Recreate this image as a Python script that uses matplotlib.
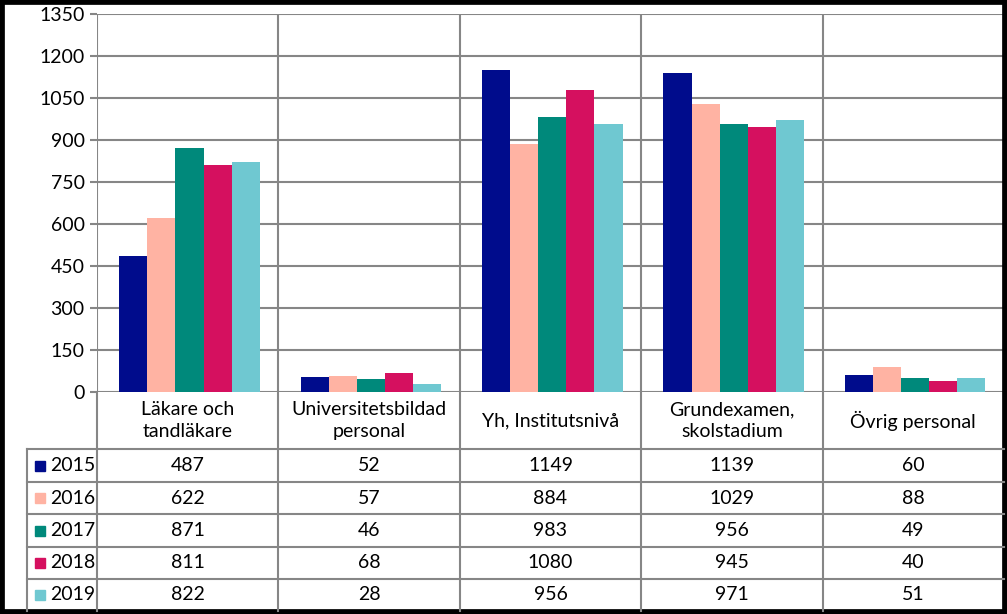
import matplotlib
matplotlib.use("Agg")
import matplotlib.pyplot as plt
import numpy as np
from matplotlib.patches import Rectangle
from matplotlib.lines import Line2D

categories = ["Läkare och\ntandläkare", "Universitetsbildad\npersonal", "Yh, Institutsnivå",
              "Grundexamen,\nskolstadium", "Övrig personal"]
years = ["2015", "2016", "2017", "2018", "2019"]
values = {
    "2015": [487, 52, 1149, 1139, 60],
    "2016": [622, 57, 884, 1029, 88],
    "2017": [871, 46, 983, 956, 49],
    "2018": [811, 68, 1080, 945, 40],
    "2019": [822, 28, 956, 971, 51],
}
colors = ["#000C8C", "#FFB3A3", "#00897B", "#D5105F", "#6FC8D1"]
yticks = [0, 150, 300, 450, 600, 750, 900, 1050, 1200, 1350]

plt.rcParams['font.family'] = ['Lato', 'DejaVu Sans']
FS = 14
W, H = 1007, 614
fig = plt.figure(figsize=(W/100, H/100), dpi=100)
fig.patch.set_facecolor("white")

L, R, T, B = 97, 1004, 14, 392
ax = fig.add_axes([L/W, 1 - B/H, (R-L)/W, (B-T)/H])
grid_c = "#868686"
n = len(categories)
x = np.arange(n)
bw = 0.155
for i, yr in enumerate(years):
    ax.bar(x + (i - 2) * bw + 0.01, values[yr], width=bw, color=colors[i], zorder=3)
ax.set_xlim(-0.5, n - 0.5)
ax.set_ylim(0, 1350)
ax.set_yticks(yticks)
ax.set_yticklabels([str(v) for v in yticks], fontsize=FS)
ax.tick_params(axis='y', length=5, width=1.5, color=grid_c, pad=4)
ax.set_xticks([])
for v in yticks:
    ax.axhline(v, color=grid_c, lw=1.5, zorder=1)
for s in ax.spines.values():
    s.set_visible(False)
ax.axvline(-0.5, color=grid_c, lw=1.5, zorder=1)
for k in range(1, n):
    ax.axvline(k - 0.5, color=grid_c, lw=1.5, zorder=1)

def fx(px):
    return px / W
def fy(py):
    return 1 - py / H

col_edges = [L + (R - L) * k / n for k in range(n + 1)]
header_bot = 449
row_edges = [449, 482, 514, 547, 579, 611]
tab_left = 27
lines = []
for k, xe in enumerate(col_edges[:-1]):
    lines.append(([xe, xe], [B, 611]))
lines.append(([tab_left, tab_left], [449, 611]))
for ye in row_edges[:-1]:
    lines.append(([tab_left, R], [ye, ye]))
for xs, ys in lines:
    fig.add_artist(Line2D([fx(v) for v in xs], [fy(v) for v in ys], color=grid_c, lw=1.5))

for k, cat in enumerate(categories):
    cx = (col_edges[k] + col_edges[k + 1]) / 2
    fig.text(fx(cx), fy((B + header_bot) / 2), cat, ha='center', va='center',
             fontsize=FS, linespacing=1.3)
for i, yr in enumerate(years):
    cy = (row_edges[i] + row_edges[i + 1]) / 2
    fig.add_artist(Rectangle((fx(35), fy(cy + 5)), 10 / W, 10 / H, transform=fig.transFigure,
                             color=colors[i]))
    fig.text(fx(50), fy(cy), yr, ha='left', va='center', fontsize=FS)
    for k in range(n):
        cx = (col_edges[k] + col_edges[k + 1]) / 2
        fig.text(fx(cx), fy(cy), str(values[yr][k]), ha='center', va='center', fontsize=FS)

fig.add_artist(Rectangle((0, 0), 1, 1, transform=fig.transFigure, fill=False,
                         edgecolor='black', lw=7))

fig.savefig("out.png", dpi=100)
